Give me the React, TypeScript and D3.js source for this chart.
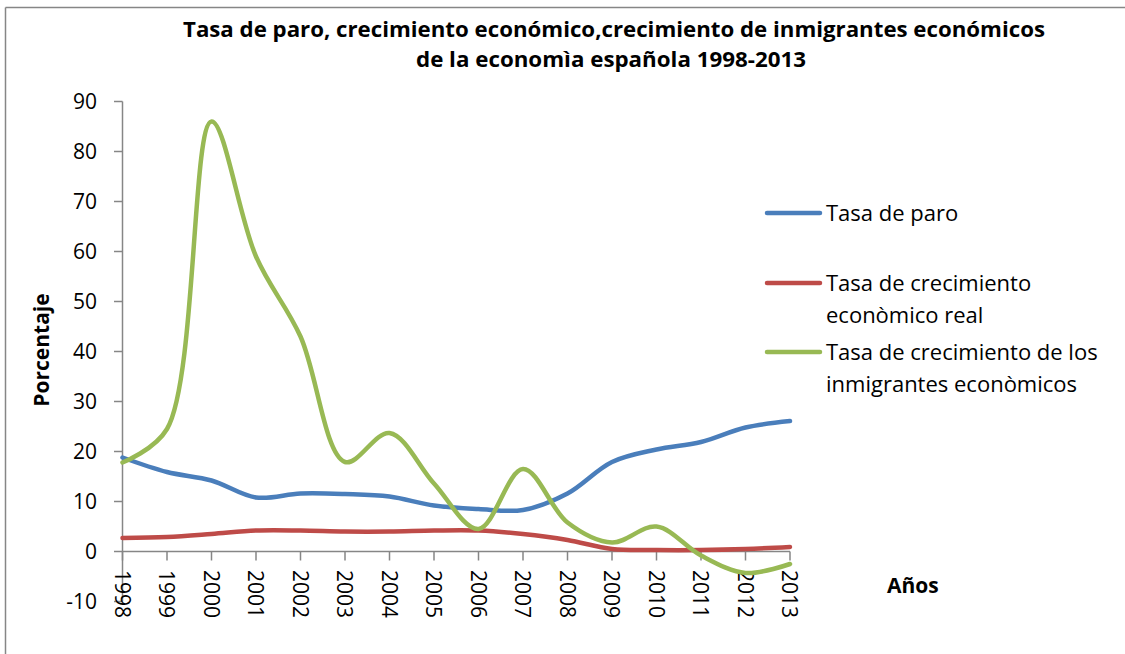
import * as d3 from "d3";

const years = ["1998", "1999", "2000", "2001", "2002", "2003", "2004", "2005", "2006", "2007", "2008", "2009", "2010", "2011", "2012", "2013"];
const tasaParo = [18.8, 15.9, 14.2, 10.8, 11.6, 11.5, 11.0, 9.2, 8.5, 8.3, 11.6, 17.9, 20.4, 21.9, 24.8, 26.1];
const crecimientoReal = [2.7, 2.9, 3.5, 4.2, 4.2, 4.0, 4.0, 4.2, 4.2, 3.5, 2.3, 0.5, 0.3, 0.3, 0.5, 0.9];
const crecimientoInmigrantes = [17.8, 24.5, 86, 59, 43, 17.9, 23.7, 13.6, 4.5, 16.5, 5.8, 1.8, 5.0, -0.8, -4.3, -2.5];
const yTicks = [-10, 0, 10, 20, 30, 40, 50, 60, 70, 80, 90];

const series = [
  { name: ["Tasa de paro"], values: tasaParo, color: "#4A7EBB" },
  { name: ["Tasa de crecimiento", "econòmico real"], values: crecimientoReal, color: "#BE4B48" },
  { name: ["Tasa de crecimiento de los", "inmigrantes econòmicos"], values: crecimientoInmigrantes, color: "#98B954" },
];

const W = 1125;
const H = 654;
const FONT = "'Open Sans', 'Noto Sans', sans-serif";
const AXIS = "#868686";

export default function App() {
  const x = d3.scalePoint<string>().domain(years).range([122.5, 790]);
  const y = d3.scaleLinear().domain([-10, 90]).range([601.5, 101.5]);

  const line = d3
    .line<number>()
    .x((_, i) => x(years[i]) as number)
    .y((d) => y(d))
    .curve(d3.curveCatmullRom.alpha(0.5));

  const legendY = [213, 283, 352];

  return (
    <svg
      width={W}
      height={H}
      style={{ position: "absolute", left: 0, top: 0, background: "#fff" }}
      fontFamily={FONT}
    >
      <rect x={0} y={0} width={W} height={H} fill="#fff" />
      {/* chart frame */}
      <line x1={5.5} x2={W} y1={7.5} y2={7.5} stroke={AXIS} strokeWidth={1.5} />
      <line x1={5.5} x2={5.5} y1={7.5} y2={H} stroke={AXIS} strokeWidth={1.5} />

      {/* title */}
      <text x={614} y={37} textAnchor="middle" fontWeight="bold" fontSize={22} textLength={862} lengthAdjust="spacingAndGlyphs">
        Tasa de paro, crecimiento económico,crecimiento de inmigrantes económicos
      </text>
      <text x={611} y={67} textAnchor="middle" fontWeight="bold" fontSize={22} textLength={390} lengthAdjust="spacingAndGlyphs">
        de la economìa española 1998-2013
      </text>

      {/* y axis */}
      <line x1={x(years[0])} x2={x(years[0])} y1={y(90)} y2={y(-10)} stroke={AXIS} strokeWidth={1.5} />
      {yTicks.map((t) => (
        <g key={t}>
          <line x1={114} x2={x(years[0])} y1={y(t)} y2={y(t)} stroke={AXIS} strokeWidth={1.5} />
          <text x={97} y={y(t)} dy="0.36em" textAnchor="end" fontSize={21} fill="#000">
            {t}
          </text>
        </g>
      ))}

      {/* x axis at zero */}
      <line x1={x(years[0])} x2={x(years[years.length - 1])} y1={y(0)} y2={y(0)} stroke={AXIS} strokeWidth={1.5} />
      {years.map((yr) => (
        <g key={yr}>
          <line x1={x(yr)} x2={x(yr)} y1={y(0)} y2={y(0) + 9} stroke={AXIS} strokeWidth={1.5} />
          <text
            transform={`translate(${x(yr)},570) rotate(90)`}
            dy="0.36em"
            textAnchor="start"
            fontSize={21}
            fill="#000"
          >
            {yr}
          </text>
        </g>
      ))}

      {/* axis titles */}
      <text transform="translate(41,350) rotate(-90)" dy="0.36em" textAnchor="middle" fontWeight="bold" fontSize={21}>
        Porcentaje
      </text>
      <text x={887} y={593} fontWeight="bold" fontSize={21}>
        Años
      </text>

      {/* series */}
      {series.map((s) => (
        <path
          key={s.color}
          d={line(s.values) ?? ""}
          fill="none"
          stroke={s.color}
          strokeWidth={4.5}
          strokeLinecap="round"
          strokeLinejoin="round"
        />
      ))}

      {/* legend */}
      {series.map((s, i) => (
        <g key={"lg" + i}>
          <line x1={767} x2={820} y1={legendY[i]} y2={legendY[i]} stroke={s.color} strokeWidth={4.5} strokeLinecap="round" />
          {s.name.map((ln, j) => (
            <text key={j} x={826} y={legendY[i] + 8 + j * 32} fontSize={22} fill="#000">
              {ln}
            </text>
          ))}
        </g>
      ))}
    </svg>
  );
}
